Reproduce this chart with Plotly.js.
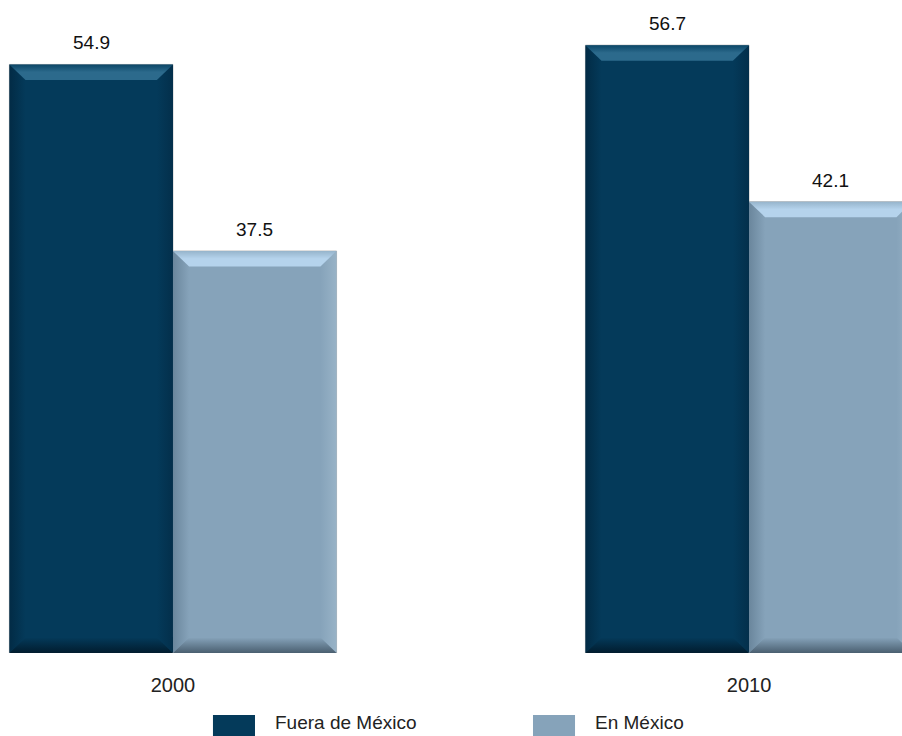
<!DOCTYPE html>
<html>
<head>
<meta charset="utf-8">
<script src="https://cdn.plot.ly/plotly-3.0.1.min.js"></script>
<style>html,body{margin:0;padding:0;background:#fff;}#chart{width:902px;height:736px;}</style>
</head>
<body>
<div id="chart"></div>
<script>
// ---- data ----
const years = ['2000', '2010'];
const fuera = [54.9, 56.7];
const enMexico = [37.5, 42.1];
const seriesNames = ['Fuera de México', 'En México'];

// ---- styles ----
const mainColors = ['#043a5a', '#86a3ba'];
const topHi = ['#2c6a8c', '#b5d3ec'];
const topEdge = ['#0b4667', '#96b4cb'];
const bottomDark = ['#011c2e', '#4a5f70'];
const sideDark = ['#022b45', '#6a869c'];
const sideRight = ['#032f4b', '#98b3c7'];
const FONT = 'Liberation Sans, Arial, sans-serif';

const bargap = 0.432;
const barW = (1 - bargap) / 2;
const bevX = 0.028;   // bevel inset in x-axis units
const bevY = 1.45;    // bevel inset in y-axis units

const xIdx = years.map((_, i) => i);
const seriesVals = [fuera, enMexico];

const traces = seriesVals.map((vals, s) => ({
  type: 'bar',
  name: seriesNames[s],
  x: xIdx,
  y: vals,
  marker: {color: mainColors[s], line: {color: 'rgba(170,170,170,0.7)', width: 1}},
  hoverinfo: 'skip',
  showlegend: false
}));

// bevel overlays computed from the data
function poly(xs, ys, type, scale) {
  return {
    type: 'scatter', mode: 'none', x: xs.concat([xs[0]]), y: ys.concat([ys[0]]),
    fill: 'toself', fillgradient: {type: type, colorscale: scale},
    hoverinfo: 'skip', showlegend: false
  };
}
const annotations = [];
seriesVals.forEach((vals, s) => {
  vals.forEach((v, j) => {
    const xc = xIdx[j] + (s === 0 ? -1 : 1) * barW / 2;
    const x0 = xc - barW / 2, x1 = xc + barW / 2;
    // left side
    traces.push(poly([x0, x0 + bevX, x0 + bevX, x0], [0, bevY, v - bevY, v], 'horizontal',
      [[0, sideDark[s]], [1, mainColors[s]]]));
    // right side
    traces.push(poly([x1, x1 - bevX, x1 - bevX, x1], [0, bevY, v - bevY, v], 'horizontal',
      [[0, mainColors[s]], [1, sideRight[s]]]));
    // bottom
    traces.push(poly([x0, x1, x1 - bevX, x0 + bevX], [0, 0, bevY, bevY], 'vertical',
      [[0, bottomDark[s]], [1, mainColors[s]]]));
    // top
    traces.push(poly([x0, x1, x1 - bevX, x0 + bevX], [v, v, v - bevY, v - bevY], 'vertical',
      [[0, topHi[s]], [0.5, topHi[s]], [1, topEdge[s]]]));
    annotations.push({
      x: xc, y: v, xref: 'x', yref: 'y', text: v.toFixed(1), showarrow: false,
      yanchor: 'bottom', yshift: 9, font: {family: FONT, size: 19, color: '#111'}
    });
  });
});

// custom legend
const legendX = [[0.2361, 0.2827], [0.5909, 0.6375]];
const legendY = [-0.0949, -0.1332];
const shapes = [];
seriesNames.forEach((nm, s) => {
  shapes.push({type: 'rect', xref: 'paper', yref: 'paper',
    x0: legendX[s][0], x1: legendX[s][1], y0: legendY[1], y1: legendY[0],
    fillcolor: mainColors[s], line: {width: 0}});
  annotations.push({xref: 'paper', yref: 'paper', x: legendX[s][1] + 0.02, y: -0.1065,
    xanchor: 'left', yanchor: 'middle', text: nm, showarrow: false,
    font: {family: FONT, size: 19, color: '#222'}});
});

const layout = {
  width: 902, height: 736,
  margin: {l: 0, r: 0, t: 0, b: 83},
  paper_bgcolor: '#fff', plot_bgcolor: '#fff',
  barmode: 'group', bargap: bargap, bargroupgap: 0,
  showlegend: false,
  xaxis: {type: 'linear', range: [-0.3003, 1.2656], tickvals: xIdx, ticktext: years,
    showgrid: false, zeroline: false, showline: false, ticks: '', ticklabelstandoff: 18,
    tickfont: {family: FONT, size: 20, color: '#222'}, fixedrange: true},
  yaxis: {range: [0, 60.91], visible: false, showgrid: false, zeroline: false, fixedrange: true},
  annotations: annotations,
  shapes: shapes
};

Plotly.newPlot('chart', traces, layout, {displayModeBar: false, staticPlot: true});
</script>
</body>
</html>
